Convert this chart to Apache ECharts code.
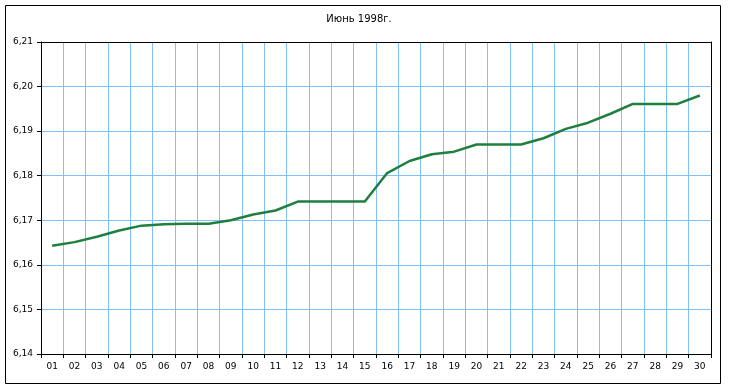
<!DOCTYPE html>
<html>
<head>
<meta charset="utf-8">
<script src="https://cdn.jsdelivr.net/npm/echarts@6/dist/echarts.min.js"></script>
<style>html,body{margin:0;padding:0;background:#fff;}#c{width:730px;height:390px;}</style>
</head>
<body>
<div id="c"></div>
<script>
var titleText = "Июнь 1998г.";
var categories = ["01","02","03","04","05","06","07","08","09","10","11","12","13","14","15","16","17","18","19","20","21","22","23","24","25","26","27","28","29","30"];
var values = [6.1643,6.1651,6.1663,6.1677,6.1688,6.1691,6.1692,6.1692,6.1700,6.1713,6.1722,6.1742,6.1742,6.1742,6.1742,6.1806,6.1833,6.1848,6.1854,6.1870,6.1870,6.1870,6.1884,6.1905,6.1919,6.1939,6.1961,6.1961,6.1961,6.1980];
var yMin = 6.14, yMax = 6.21, yStep = 0.01;

var chart = echarts.init(document.getElementById('c'), null, {renderer:'canvas'});
var font = 'DejaVu Sans';
var blank = {show:false};
chart.setOption({
  animation:false,
  backgroundColor:'#fff',
  title:{text:titleText, left:354, top:9, textAlign:'center',
    textStyle:{fontFamily:font, fontSize:10, fontWeight:'normal', color:'#000'}},
  graphic:[{type:'rect', shape:{x:5.5,y:5.5,width:715,height:378}, style:{fill:'none', stroke:'#000', lineWidth:1}, silent:true, z:-1}],
  grid:{left:41, top:42, width:670, height:312, show:false},
  xAxis:[{type:'category', data:categories, boundaryGap:true,
    axisLine:{lineStyle:{color:'#000', width:1}},
    axisTick:{show:true, length:4, lineStyle:{color:'#000'}},
    axisLabel:{fontFamily:font, fontSize:9, color:'#000', margin:8, interval:0},
    splitLine:{show:true, lineStyle:{color:'#80c0ff', width:1}}},
    {type:'category', data:categories, position:'top', boundaryGap:true,
    axisLine:{show:true, onZero:false, lineStyle:{color:'#000', width:1}},
    axisTick:blank, axisLabel:blank, splitLine:blank}],
  yAxis:[{type:'value', min:yMin, max:yMax, interval:yStep,
    axisLine:{show:true, lineStyle:{color:'#000', width:1}},
    axisTick:{show:true, length:4, lineStyle:{color:'#000'}},
    axisLabel:{fontFamily:font, fontSize:9, color:'#000', margin:8,
      formatter:function(v){return v.toFixed(2).replace('.',',');}},
    splitLine:{show:true, lineStyle:{color:'#80c0ff', width:1}}},
    {type:'value', min:yMin, max:yMax, interval:yStep, position:'right',
    axisLine:{show:true, onZero:false, lineStyle:{color:'#000', width:1}},
    axisTick:blank, axisLabel:blank, splitLine:blank}],
  series:[{type:'line', data:values, symbol:'none', smooth:false,
    lineStyle:{color:'#1f7f3f', width:2.5}}]
});
</script>
</body>
</html>
